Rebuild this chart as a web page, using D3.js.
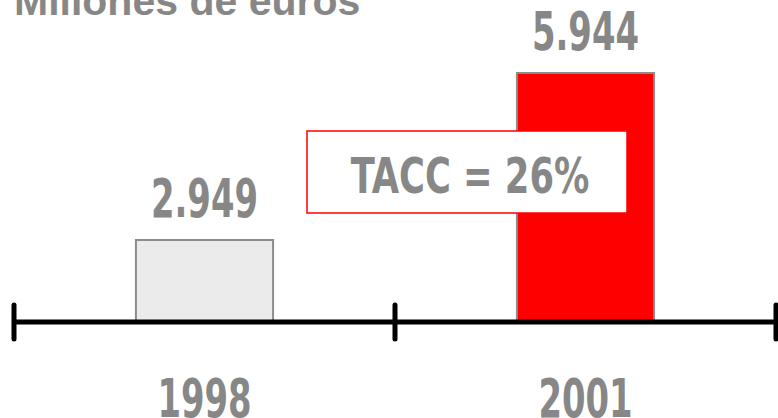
<!DOCTYPE html>
<html>
	<head>
		<meta charset="utf-8" />
		<title>Millones de euros</title>
		<style>
			body { margin: 0; background: #fff; }
			#graph { width: 778px; height: 418px; overflow: hidden; }
			#graph svg { display: block; }
			.cond { font-family: "DejaVu Sans Condensed", "DejaVu Sans", sans-serif; font-stretch: condensed; font-weight: bold; fill: #878787; }
		</style>
	</head>
	<body>
		<div id="graph"></div>
		<script src="https://cdnjs.cloudflare.com/ajax/libs/d3/7.8.5/d3.min.js"></script>
		<script>
			var years = ["1998", "2001"];
			var values = [2949, 5944];
			var valueLabels = ["2.949", "5.944"];
			var fills = ["#ebebeb", "#ff0000"];
			var title = "Millones de euros";
			var growthLabel = "TACC = 26%";

			!(function(){
				var width = 778, height = 418;
				var baseY = 322;
				var squeeze = 0.71; // no narrow font here, so squash the condensed one
				var svg = d3.select("#graph").append("svg")
					.attr("width", width)
					.attr("height", height);

				var x = d3.scaleBand()
					.domain(years)
					.range([14, 776])
					.padding(0);

				// the bars don't start from zero in the original
				var y = d3.scaleLinear()
					.domain([1478, 5944])
					.range([baseY, 73]);

				var barW = x.bandwidth() * 0.36;
				var cx = function(yr){ return x(yr) + x.bandwidth()/2; };

				svg.append("text")
					.attr("x", 14)
					.attr("y", 15)
					.style("font-family", "'Liberation Sans', Arial, sans-serif")
					.style("font-weight", "bold")
					.style("font-size", "41px")
					.style("fill", "#878787")
					.text(title);

				svg.selectAll("rect.bar")
					.data(values)
					.enter().append("rect")
					.attr("class", "bar")
					.attr("x", function(d, i){ return cx(years[i]) - barW/2; })
					.attr("y", function(d){ return y(d); })
					.attr("width", barW)
					.attr("height", function(d){ return baseY - y(d); })
					.style("fill", function(d, i){ return fills[i]; })
					.style("stroke", "#8c8c8c")
					.style("stroke-width", 2);

				svg.selectAll("text.val")
					.data(values)
					.enter().append("text")
					.attr("class", "val cond")
					.attr("transform", function(d, i){
						return "translate(" + cx(years[i]) + "," + (y(d) - 23) + ") scale(" + squeeze + ",1)";
					})
					.attr("text-anchor", "middle")
					.style("font-size", "53px")
					.text(function(d, i){ return valueLabels[i]; });

				// axis
				svg.append("line")
					.attr("x1", x.range()[0]).attr("x2", x.range()[1])
					.attr("y1", baseY).attr("y2", baseY)
					.style("stroke", "#000")
					.style("stroke-width", 5);

				var bounds = years.map(function(d){ return x(d); }).concat([x.range()[1]]);
				svg.selectAll("line.tick")
					.data(bounds)
					.enter().append("line")
					.attr("class", "tick")
					.attr("x1", function(d){ return d; }).attr("x2", function(d){ return d; })
					.attr("y1", baseY - 17).attr("y2", baseY + 17)
					.style("stroke", "#000")
					.style("stroke-width", 5)
					.style("stroke-linecap", "round");

				svg.selectAll("text.year")
					.data(years)
					.enter().append("text")
					.attr("class", "year cond")
					.attr("transform", function(d){
						return "translate(" + cx(d) + ",417) scale(" + squeeze + ",1)";
					})
					.attr("text-anchor", "middle")
					.style("font-size", "53px")
					.text(function(d){ return d; });

				// growth box
				var box = svg.append("g").attr("transform", "translate(307,131)");
				box.append("rect")
					.attr("width", 320)
					.attr("height", 82)
					.style("fill", "#fff")
					.style("stroke", "#ff0000")
					.style("stroke-width", 1.5);
				box.append("text")
					.attr("class", "cond")
					.attr("transform", "translate(163,62) scale(0.8,1)")
					.attr("text-anchor", "middle")
					.style("font-size", "49px")
					.text(growthLabel);
			}());
		</script>
	</body>
</html>
